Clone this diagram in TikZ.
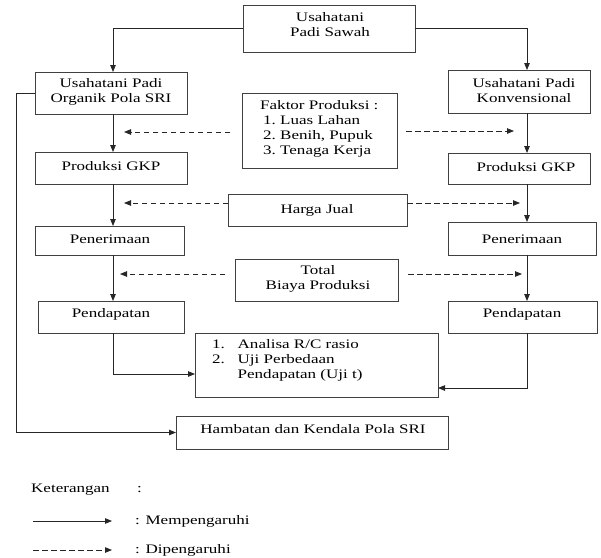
\documentclass[tikz,border=0pt]{standalone}
\usepackage{fontspec}
\setmainfont[FakeStretch=1.31]{Liberation Serif}
\usetikzlibrary{arrows.meta,calc}
\begin{document}
\begin{tikzpicture}[x=1pt,y=-1pt,
  box/.style={draw=black!75,line width=0.8pt,inner sep=0pt,outer sep=0pt,anchor=north west},
  txt/.style={inner sep=0pt,font=\fontsize{13}{15}\selectfont,align=center,text=black},
  ltxt/.style={txt,align=left,anchor=west},
  arr/.style={draw=black!85,line width=0.8pt,-{Triangle[length=7pt,width=5.5pt]}},
  darr/.style={arr,dash pattern=on 5.5pt off 3.5pt}]
\useasboundingbox (0,0) rectangle (601,557);
% boxes
\node[box,minimum width=172pt,minimum height=47pt] (top) at (243,5) {};
\node[box,minimum width=152pt,minimum height=42pt] (left1) at (35,72) {};
\node[box,minimum width=142pt,minimum height=43pt] (right1) at (448,70) {};
\node[box,minimum width=155pt,minimum height=75pt] (faktor) at (242,93) {};
\node[box,minimum width=152pt,minimum height=32pt] (prodL) at (35,152) {};
\node[box,minimum width=142pt,minimum height=31pt] (prodR) at (448,153) {};
\node[box,minimum width=179pt,minimum height=32pt] (harga) at (228,194) {};
\node[box,minimum width=149pt,minimum height=29pt] (penL) at (35,226) {};
\node[box,minimum width=148pt,minimum height=33pt] (penR) at (448,222) {};
\node[box,minimum width=163pt,minimum height=42pt] (total) at (235,259) {};
\node[box,minimum width=146pt,minimum height=32pt] (pendL) at (38,301) {};
\node[box,minimum width=149pt,minimum height=32pt] (pendR) at (448,301) {};
\node[box,minimum width=243pt,minimum height=64pt] (analisa) at (195,333) {};
\node[box,minimum width=272pt,minimum height=33pt] (hamb) at (176,416) {};
% texts
\node[txt] (tTop) at (330,25) {Usahatani\\Padi Sawah};
\node[txt] (tL1) at (111,92) {Usahatani Padi\\Organik Pola SRI};
\node[txt] (tR1) at (524,91) {Usahatani Padi\\Konvensional};
\node[ltxt] (tFak) at (260,129) {Faktor Produksi :\\
  \hspace*{3pt}\makebox[17pt][l]{1.}Luas Lahan\\
  \hspace*{3pt}\makebox[17pt][l]{2.}Benih, Pupuk\\
  \hspace*{3pt}\makebox[17pt][l]{3.}Tenaga Kerja};
\node[txt] (tPL) at (111,166) {Produksi GKP};
\node[txt] (tPR) at (526,167) {Produksi GKP};
\node[txt] (tHar) at (317,210) {Harga Jual};
\node[txt] (tNL) at (110,239) {Penerimaan};
\node[txt] (tNR) at (522,239) {Penerimaan};
\node[txt] (tTot) at (318,279) {Total\\Biaya Produksi};
\node[txt] (tDL) at (111,314) {Pendapatan};
\node[txt] (tDR) at (522,314) {Pendapatan};
\node[ltxt] (tAn) at (212,360) {\makebox[25.5pt][l]{1.}Analisa R/C rasio\\
  \makebox[25.5pt][l]{2.}Uji Perbedaan\\
  \hspace*{25.5pt}Pendapatan (Uji t)};
\node[txt] (tHam) at (313,429) {Hambatan dan Kendala Pola SRI};
% columns
\coordinate (cL) at (113,0);
\coordinate (cR) at (527,0);
% solid connectors
\draw[arr] (top.west) -| (left1.north -| cL);
\draw[arr] (top.east) -| (right1.north -| cR);
\draw[arr] (left1.south -| cL) -- (prodL.north -| cL);
\draw[arr] (right1.south -| cR) -- (prodR.north -| cR);
\draw[arr] (prodL.south -| cL) -- (penL.north -| cL);
\draw[arr] (prodR.south -| cR) -- (penR.north -| cR);
\draw[arr] (penL.south -| cL) -- (pendL.north -| cL);
\draw[arr] (penR.south -| cR) -- (pendR.north -| cR);
\draw[arr] (pendL.south -| cL) |- ($(analisa.west)+(0,9)$);
\draw[arr] (pendR.south -| cR) |- ($(analisa.east)+(0,23)$);
\draw[arr] (left1.west) -- ++(-19,0) |- (hamb.west);
% dashed connectors
\draw[darr] ($(faktor.west)+(-12,1.5)$) -- ($(faktor.west -| cL)+(11,1.5)$);
\draw[darr] ($(faktor.east)+(9,0.5)$) -- ($(faktor.east -| cR)+(-13,0.5)$);
\draw[darr] ($(harga.west)+(0,-7)$) -- ($(harga.west -| cL)+(11,-7)$);
\draw[darr] ($(harga.east)+(0,-7)$) -- ($(harga.east -| cR)+(-7,-7)$);
\draw[darr] ($(total.west)+(-10,-6)$) -- ($(total.west -| cL)+(7,-6)$);
\draw[darr] ($(total.east)+(10,-6)$) -- ($(total.east -| cR)+(-5,-6)$);
% legend
\node[ltxt] (kLbl) at (31,490) {Keterangan};
\node[ltxt] (kCol) at (137,490) {:};
\coordinate (la1) at (33,521);
\coordinate (la2) at (112,521);
\coordinate (lb1) at (33,550);
\coordinate (lb2) at (112,550);
\draw[arr] (la1) -- (la2);
\draw[darr] (lb1) -- (lb2);
\node[ltxt] (kM) at (135,521) {: Mempengaruhi};
\node[ltxt] (kD) at (135,550) {: Dipengaruhi};
\end{tikzpicture}
\end{document}
